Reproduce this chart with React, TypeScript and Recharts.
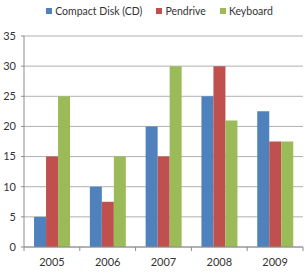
import { Bar, BarChart, CartesianGrid, Legend, XAxis, YAxis } from "recharts";

const years = ["2005", "2006", "2007", "2008", "2009"];
const compactDisk = [5, 10, 20, 25, 22.5];
const pendrive = [15, 7.5, 15, 30, 17.5];
const keyboard = [25, 15, 30, 21, 17.5];
const yTicks = [0, 5, 10, 15, 20, 25, 30, 35];

const data = years.map((year, i) => ({
  year,
  cd: compactDisk[i],
  pendrive: pendrive[i],
  keyboard: keyboard[i],
}));

const font = "Lato, 'Liberation Sans', Arial, sans-serif";
const axisColor = "#8c8c8c";

const YearTick = (props: any) => {
  const { x, y, payload, index, visibleTicksCount } = props;
  const band = 279 / years.length;
  const last = index === (visibleTicksCount ?? years.length) - 1;
  return (
    <g>
      <line x1={x - band / 2} x2={x - band / 2} y1={y - 8} y2={y - 4} stroke={axisColor} />
      {last && <line x1={x + band / 2} x2={x + band / 2} y1={y - 8} y2={y - 4} stroke={axisColor} />}
      <text x={x} y={y + 11} textAnchor="middle" fontSize={11} fill="#333" fontFamily={font}>
        {payload.value}
      </text>
    </g>
  );
};

const legendItems = [
  { label: "Compact Disk (CD)", color: "#4f81bd" },
  { label: "Pendrive", color: "#c0504d" },
  { label: "Keyboard", color: "#9bbb59" },
];

const LegendContent = () => (
  <div style={{ display: "flex", justifyContent: "center", gap: 14, fontFamily: font, fontSize: 10.5, color: "#333" }}>
    {legendItems.map((item) => (
      <span key={item.label} style={{ display: "flex", alignItems: "center", gap: 3 }}>
        <span style={{ width: 6, height: 6, background: item.color, display: "inline-block" }} />
        {item.label}
      </span>
    ))}
  </div>
);

export default function App() {
  return (
    <div style={{ position: "absolute", left: 0, top: 0, width: 305, height: 274, background: "#fff" }}>
      <BarChart
        width={305}
        height={274}
        data={data}
        margin={{ top: 24, right: 2, bottom: 0, left: 0 }}
        barCategoryGap="18%"
        barGap={0}
      >
        <Legend
          verticalAlign="top"
          content={<LegendContent />}
          wrapperStyle={{ position: "absolute", top: 5, left: 22, width: 275 }}
        />
        <CartesianGrid vertical={false} stroke="#b0b0b0" />
        <XAxis
          dataKey="year"
          height={27}
          stroke={axisColor}
          tickLine={false}
          tick={<YearTick />}
          interval={0}
        />
        <YAxis
          domain={[0, 35]}
          ticks={yTicks}
          width={24}
          stroke={axisColor}
          tickSize={3}
          tickMargin={5}
          tick={{ fontSize: 11, fill: "#333", fontFamily: font }}
          interval={0}
        />
        <Bar dataKey="cd" name="Compact Disk (CD)" fill="#4f81bd" isAnimationActive={false} />
        <Bar dataKey="pendrive" name="Pendrive" fill="#c0504d" isAnimationActive={false} />
        <Bar dataKey="keyboard" name="Keyboard" fill="#9bbb59" isAnimationActive={false} />
      </BarChart>
    </div>
  );
}
